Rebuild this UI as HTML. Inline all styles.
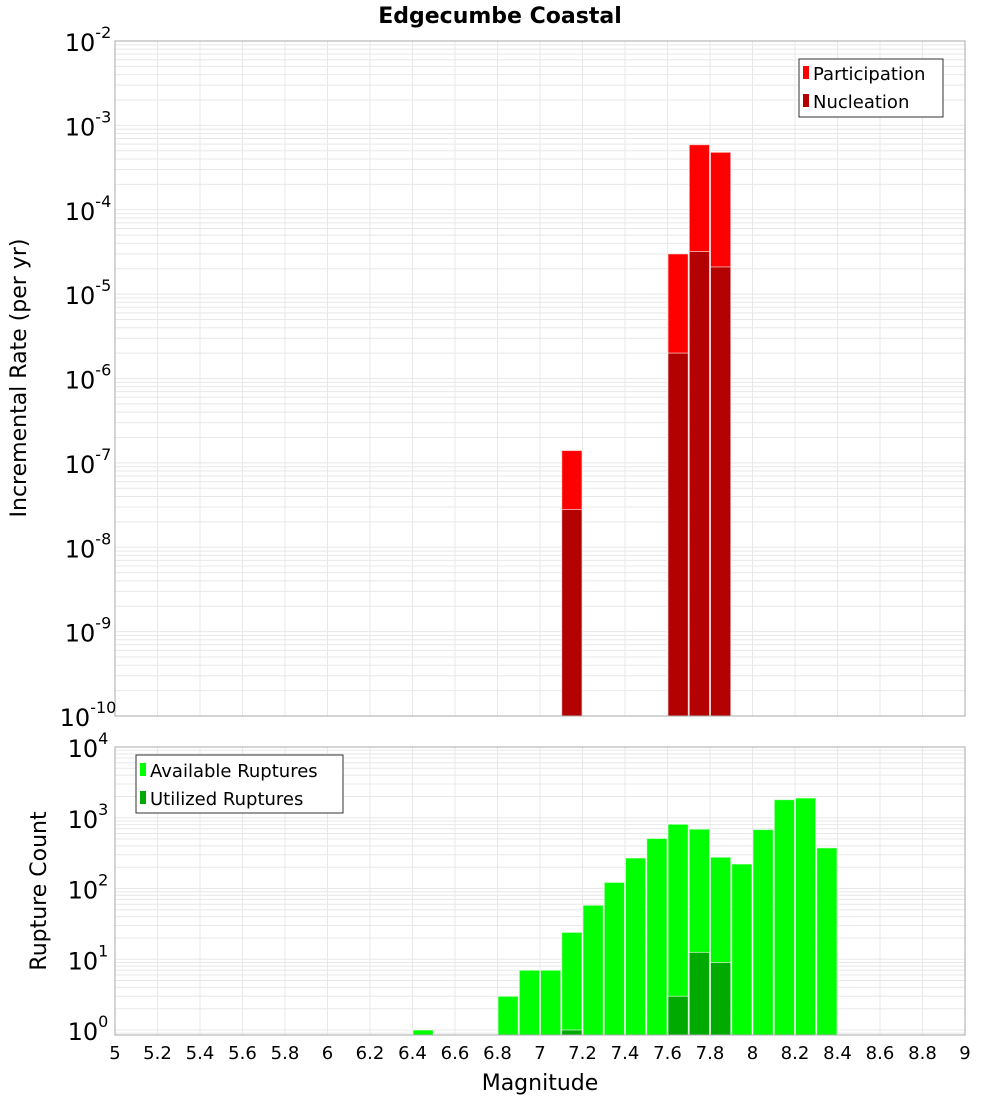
<!DOCTYPE html>
<html><head><meta charset="utf-8"><style>
body{margin:0;background:#fff;width:1000px;height:1100px;overflow:hidden;font-family:"Liberation Sans","DejaVu Sans",sans-serif}
svg text{font-family:"DejaVu Sans","Liberation Sans",sans-serif}
</style></head><body>
<svg id="chart" width="1000" height="1100" xmlns="http://www.w3.org/2000/svg">
<text x="500" y="23" text-anchor="middle" font-size="22" font-weight="bold">Edgecumbe Coastal</text>
<text transform="translate(26,378) rotate(-90)" text-anchor="middle" font-size="22">Incremental Rate (per yr)</text>
<text transform="translate(46,891) rotate(-90)" text-anchor="middle" font-size="22">Rupture Count</text>
<text x="540" y="1090" text-anchor="middle" font-size="22">Magnitude</text>
<g id="top"></g><g id="bot"></g>
<g>
<rect x="799" y="59" width="144" height="58" fill="#fff" stroke="#333"/>
<rect x="803" y="66" width="6" height="13" fill="#ff0000"/>
<text x="813" y="80" font-size="18">Participation</text>
<rect x="803" y="94" width="6" height="13" fill="#b30000"/>
<text x="813" y="108" font-size="18">Nucleation</text>
</g>
<g>
<rect x="136" y="755" width="207" height="58" fill="#fff" stroke="#333"/>
<rect x="140" y="763" width="6" height="13" fill="#00ff00"/>
<text x="150" y="777" font-size="18">Available Ruptures</text>
<rect x="140" y="791" width="6" height="13" fill="#00aa00"/>
<text x="150" y="805" font-size="18">Utilized Ruptures</text>
</g>
</svg>
<script>
const topMags=[7.15,7.65,7.75,7.85];
const participation=[1.4e-7,3e-5,5.9e-4,4.8e-4];
const nucleation=[2.8e-8,2e-6,3.2e-5,2.1e-5];
const botMags=[6.45,6.85,6.95,7.05,7.15,7.25,7.35,7.45,7.55,7.65,7.75,7.85,7.95,8.05,8.15,8.25,8.35];
const available=[1,3,7,7,24,58,122,270,510,810,690,277,222,680,1800,1900,375];
const utilMags=[7.15,7.65,7.75,7.85];
const utilized=[1,3,12.5,9];
const xTicks=["5","5.2","5.4","5.6","5.8","6","6.2","6.4","6.6","6.8","7","7.2","7.4","7.6","7.8","8","8.2","8.4","8.6","8.8","9"];
const topExps=[-2,-3,-4,-5,-6,-7,-8,-9,-10];
const botExps=[4,3,2,1,0];

const NS="http://www.w3.org/2000/svg";
const X0=115,X1=965,xMin=5,xMax=9;
const xs=m=>X0+(m-xMin)/(xMax-xMin)*(X1-X0);
const T={y0:41,y1:716,lmax:-2,lmin:-10};
const B={y0:747,y1:1035,lmax:4,lmin:Math.log10(0.85)};
const ys=(P,v)=>P.y0+(P.lmax-Math.log10(v))/(P.lmax-P.lmin)*(P.y1-P.y0);
function mk(tag,attrs,parent){const e=document.createElementNS(NS,tag);for(const k in attrs)e.setAttribute(k,attrs[k]);parent.appendChild(e);return e;}

function panel(g,P,name){
  mk('rect',{x:X0,y:P.y0,width:X1-X0,height:P.y1-P.y0,fill:'#fff'},g);
  for(let d=Math.floor(P.lmin);d<P.lmax;d++){for(let k=1;k<10;k++){const v=k*Math.pow(10,d);const l=Math.log10(v);if(l<P.lmin||l>P.lmax)continue;const y=ys(P,v);
    const ln=mk('line',{x1:X0,x2:X1,y1:y,y2:y,stroke:'#e8e8e8','stroke-width':1},g);
    
    }}
  for(let i=1;i<xTicks.length-1;i++){const x=xs(+xTicks[i]);
    const ln=mk('line',{x1:x,x2:x,y1:P.y0,y2:P.y1,stroke:'#e8e8e8','stroke-width':1},g);
    
    }
}
function border(g,P){mk('rect',{x:X0,y:P.y0,width:X1-X0,height:P.y1-P.y0,fill:'none',stroke:'#aaa','stroke-width':1},g);}
function bar(g,P,m,v,fill,name){
  const x=xs(m-0.05),w=xs(m+0.05)-x,y=ys(P,v);
  const r=mk('rect',{x:x+0.5,y:y,width:w-1,height:P.y1-y,fill:fill,stroke:'#fff','stroke-opacity':0.6,'stroke-width':1},g);
  
  
}
function yLabels(g,P,exps,name){
  exps.forEach(e=>{const y=ys(P,Math.pow(10,e));
    const t=mk('text',{x:107,y:y+10,'text-anchor':'end','font-size':24},g);
    
    
    t.textContent='10';
    const s=mk('tspan',{dy:-13,'font-size':16},t);s.textContent=String(e);
    t.setAttribute('x',88);t.setAttribute('text-anchor','middle');
  });
}
const gt=document.getElementById('top'),gb=document.getElementById('bot');
panel(gt,T,'top');panel(gb,B,'bottom');
topMags.forEach((m,i)=>bar(gt,T,m,participation[i],'#ff0000','participation-bar'));
topMags.forEach((m,i)=>bar(gt,T,m,nucleation[i],'#b30000','nucleation-bar'));
botMags.forEach((m,i)=>bar(gb,B,m,available[i],'#00ff00','available-bar'));
utilMags.forEach((m,i)=>bar(gb,B,m,utilized[i],'#00aa00','utilized-bar'));
border(gt,T);border(gb,B);
yLabels(gt,T,topExps,'top-y');yLabels(gb,B,botExps,'bottom-y');
xTicks.forEach(s=>{const t=mk('text',{x:xs(+s),y:1059,'text-anchor':'middle','font-size':18},gb);
  
  
  t.textContent=s;});
</script>
</body></html>
